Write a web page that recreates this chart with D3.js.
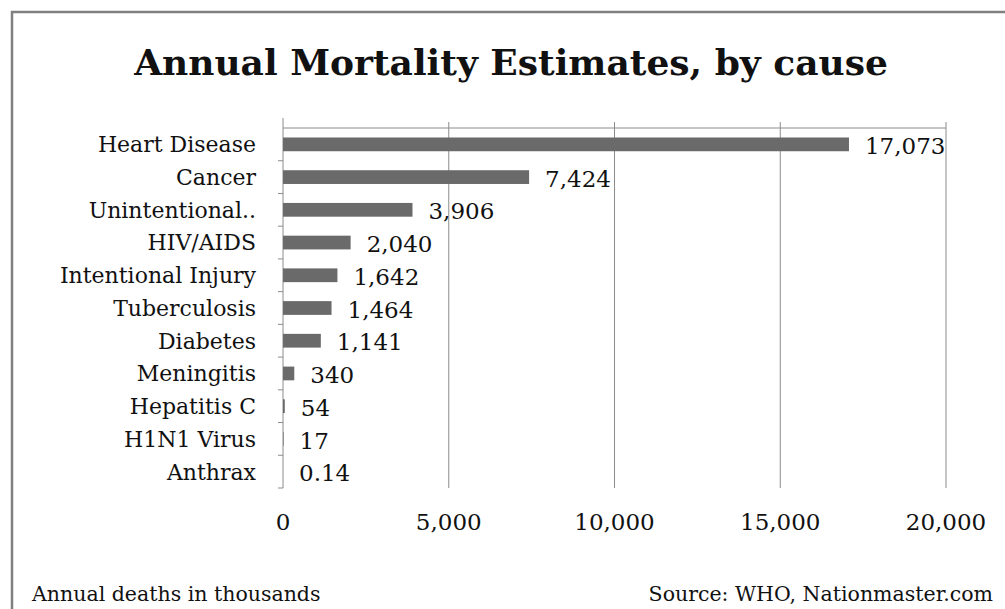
<!DOCTYPE html>
<meta charset="utf-8">
<style>

body {
    margin: 0;
    background: #fff;
}

.chart text {
    font-family: "DejaVu Serif", serif;
    fill: #111;
}

.bar {
    fill: #6a6a6a;
}

.grid line {
    stroke: #8c8c8c;
    stroke-width: 1;
}

</style>
<svg class="chart" width="1005" height="609"></svg>
<script src="https://d3js.org/d3.v7.min.js"></script>
<script>

var causes = ["Heart Disease", "Cancer", "Unintentional..", "HIV/AIDS", "Intentional Injury",
              "Tuberculosis", "Diabetes", "Meningitis", "Hepatitis C", "H1N1 Virus", "Anthrax"];
var deaths = [17073, 7424, 3906, 2040, 1642, 1464, 1141, 340, 54, 17, 0.14];
var valueLabels = ["17,073", "7,424", "3,906", "2,040", "1,642", "1,464", "1,141", "340", "54", "17", "0.14"];
var xTicks = [0, 5000, 10000, 15000, 20000];

var data = causes.map(function(c, i) {
    return {cause: c, value: deaths[i], label: valueLabels[i]};
});

var svg = d3.select("svg"),
    margin = {top: 128, right: 59, bottom: 121, left: 283},
    width = +svg.attr("width") - margin.left - margin.right,
    height = +svg.attr("height") - margin.top - margin.bottom;

// outer frame, cut off at right and bottom like the original
svg.append("rect")
    .attr("x", 12)
    .attr("y", 12)
    .attr("width", 1003)
    .attr("height", 610)
    .attr("fill", "none")
    .attr("stroke", "#808080")
    .attr("stroke-width", 2.5);

svg.append("text")
    .attr("x", 511)
    .attr("y", 75)
    .attr("text-anchor", "middle")
    .style("font-size", "36px")
    .style("font-weight", "bold")
    .text("Annual Mortality Estimates, by cause");

var x = d3.scaleLinear().domain([0, 20000]).range([0, width]);
var y = d3.scaleBand().domain(causes).range([0, height]).paddingInner(0.58).paddingOuter(0.29);
var yEdges = d3.scaleLinear().domain([0, causes.length]).range([0, height]);

var g = svg.append("g")
    .attr("transform", "translate(" + margin.left + "," + margin.top + ")");

// vertical gridlines
g.append("g")
    .attr("class", "grid")
    .selectAll("line")
    .data(xTicks.slice(1))
    .enter().append("line")
    .attr("x1", function(d) { return x(d); })
    .attr("x2", function(d) { return x(d); })
    .attr("y1", -6)
    .attr("y2", height);

// top axis line
g.append("g")
    .attr("class", "grid")
    .append("line")
    .attr("x1", 0)
    .attr("x2", width)
    .attr("y1", 0)
    .attr("y2", 0);

// category axis with ticks at band edges
g.append("g")
    .attr("class", "grid")
    .call(function(sel) {
        sel.append("line")
            .attr("x1", 0).attr("x2", 0)
            .attr("y1", -10).attr("y2", height);
        sel.selectAll(".tk")
            .data(d3.range(1, causes.length + 1))
            .enter().append("line")
            .attr("class", "tk")
            .attr("x1", -5).attr("x2", 0)
            .attr("y1", function(d) { return yEdges(d); })
            .attr("y2", function(d) { return yEdges(d); });
    });

g.selectAll(".cat")
    .data(causes)
    .enter().append("text")
    .attr("class", "cat")
    .attr("x", -27)
    .attr("y", function(d) { return y(d) + y.bandwidth() / 2; })
    .attr("dy", "0.36em")
    .attr("text-anchor", "end")
    .style("font-size", "22px")
    .text(function(d) { return d; });

g.selectAll(".bar")
    .data(data)
    .enter().append("rect")
    .attr("class", "bar")
    .attr("x", 0)
    .attr("y", function(d) { return y(d.cause); })
    .attr("width", function(d) { return x(d.value); })
    .attr("height", y.bandwidth());

g.selectAll(".val")
    .data(data)
    .enter().append("text")
    .attr("class", "val")
    .attr("x", function(d) { return x(d.value) + 16; })
    .attr("y", function(d) { return y(d.cause) + y.bandwidth() / 2; })
    .attr("dy", "0.42em")
    .style("font-size", "23px")
    .text(function(d) { return d.label; });

g.selectAll(".xt")
    .data(xTicks)
    .enter().append("text")
    .attr("class", "xt")
    .attr("x", function(d) { return x(d); })
    .attr("y", height + 34)
    .attr("dy", "0.35em")
    .attr("text-anchor", "middle")
    .style("font-size", "23px")
    .text(d3.format(","));

svg.append("text")
    .attr("x", 32)
    .attr("y", 601)
    .style("font-size", "20.5px")
    .text("Annual deaths in thousands");

svg.append("text")
    .attr("x", 993)
    .attr("y", 601)
    .attr("text-anchor", "end")
    .style("font-size", "20.5px")
    .text("Source: WHO, Nationmaster.com");

</script>
